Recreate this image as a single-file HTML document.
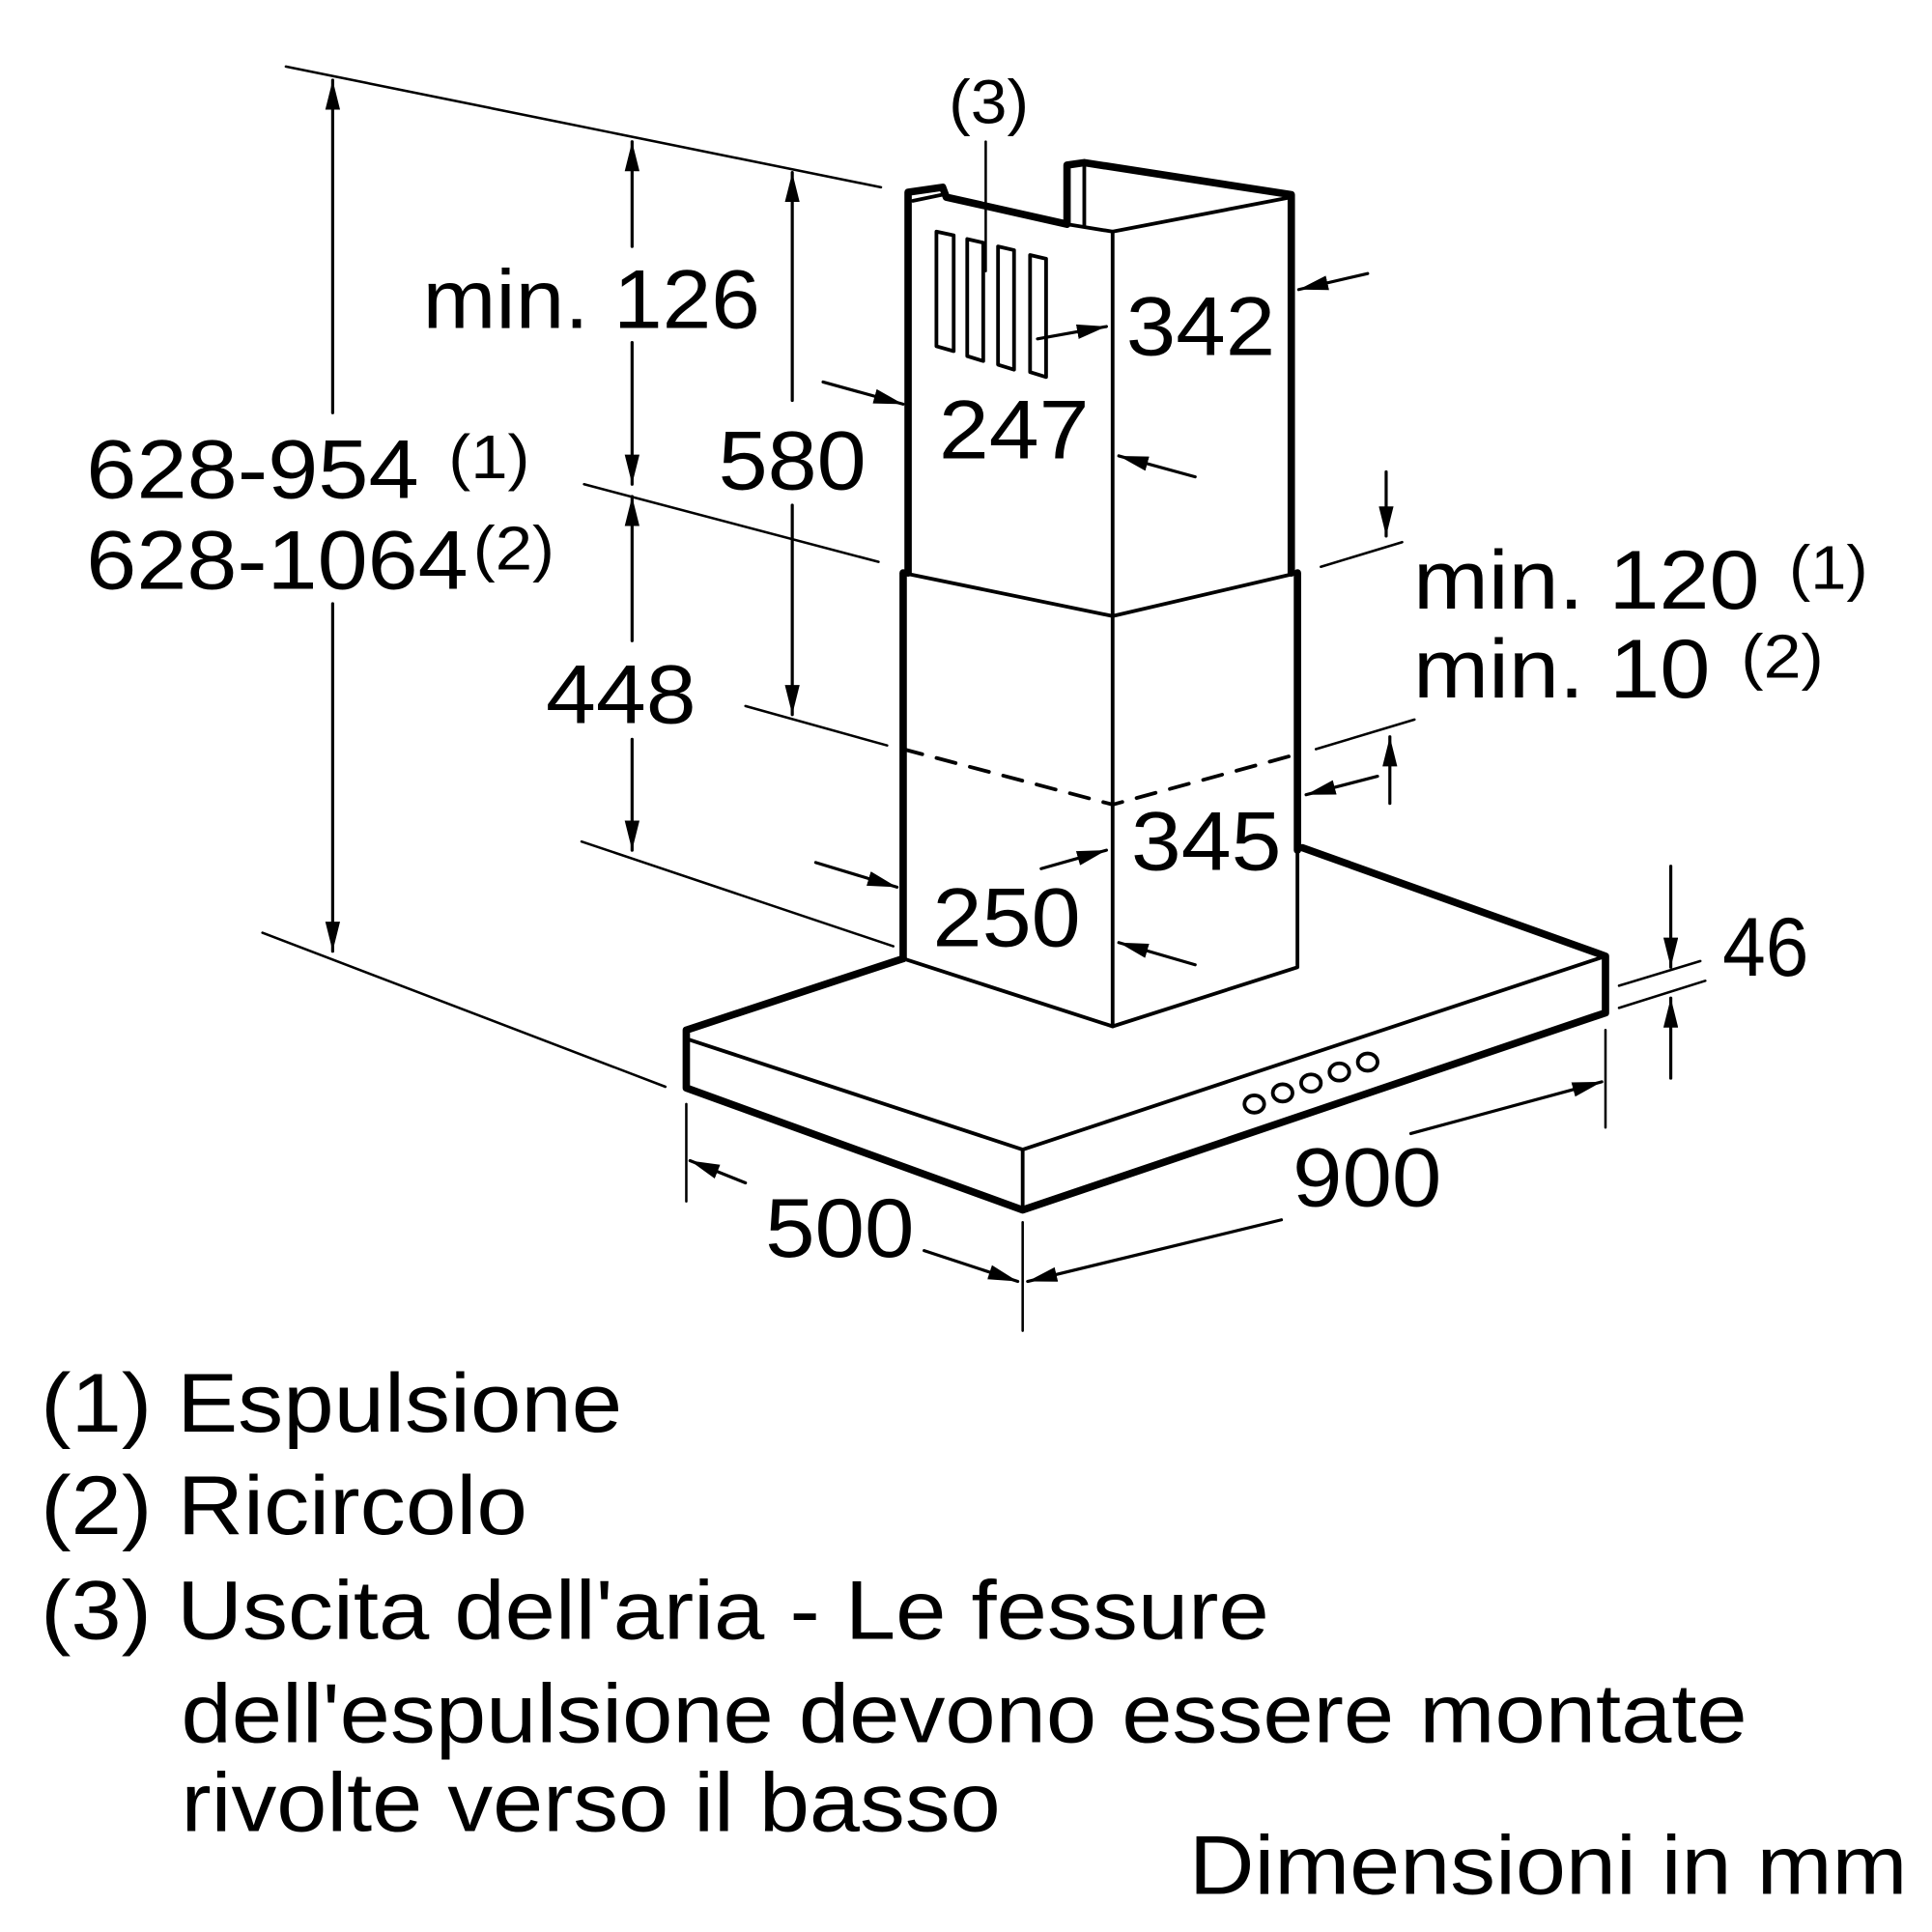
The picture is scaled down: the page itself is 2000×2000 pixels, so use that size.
<!DOCTYPE html>
<html><head><meta charset="utf-8"><style>
html,body{margin:0;padding:0;background:#fff}
svg{display:block}
text{font-family:"Liberation Sans",sans-serif;fill:#000}
</style></head><body>
<svg width="2000" height="2000" viewBox="0 0 1568 1568" xmlns="http://www.w3.org/2000/svg">
<defs>
<marker id="ah" viewBox="0 0 24 12" refX="24" refY="6" markerWidth="24" markerHeight="12" markerUnits="userSpaceOnUse" orient="auto">
<path d="M0,0 L24,6 L0,12 z"/></marker>
</defs>
<g fill="none" stroke="#000" stroke-linecap="round" stroke-linejoin="round">
<g stroke-width="6">
<path d="M737,465 L737,156 L765,152 L768,160 L866,182 L866,134 L880,132 L1048,158 L1048,465"/>
<path d="M733,778 L733,465"/>
<path d="M1053,690 L1053,465"/>
<path d="M733,778 L557,836 L557,883 L830,982 L1303,822 L1303,776 L1057,688"/>
</g>
<g stroke-width="3">
<path d="M741,163 L765,158"/>
<path d="M880,134 L880,183"/>
<path d="M866,182 L903,188 L1048,160"/>
<path d="M903,188 L903,500"/>
<path d="M733,465 L903,500 L1053,465"/>
<path d="M903,500 L903,833"/>
<path d="M733,778 L903,833 L1053,785 L1053,690"/>
<path d="M557,843 L830,933 L1303,776"/>
<path d="M830,933 L830,982"/>
<path d="M733,608 L903,653 L1053,612" stroke-dasharray="16,12"/>
<path d="M760,188 L774,191 L774,285 L760,281 z"/>
<path d="M785,194 L798,197 L798,293 L785,289 z"/>
<path d="M810,200 L823,203 L823,300 L810,296 z"/>
<path d="M836,207 L849,210 L849,306 L836,302 z"/>
<ellipse cx="1018" cy="896" rx="8" ry="7"/>
<ellipse cx="1041" cy="887" rx="8" ry="7"/>
<ellipse cx="1064" cy="879" rx="8" ry="7"/>
<ellipse cx="1087" cy="870" rx="8" ry="7"/>
<ellipse cx="1110" cy="862" rx="8" ry="7"/>
</g>
<g stroke-width="2">
<path d="M232,54 L715,152"/>
<path d="M474,393 L713,456"/>
<path d="M605,573 L720,605"/>
<path d="M472,683 L725,768"/>
<path d="M213,757 L540,882"/>
<path d="M1072,460 L1138,440"/>
<path d="M1068,608 L1148,584"/>
<path d="M1314,800 L1380,780"/>
<path d="M1314,818 L1384,796"/>
<path d="M557,896 L557,975"/>
<path d="M830,992 L830,1080"/>
<path d="M1303,836 L1303,915"/>
<path d="M800,115 L800,220"/>
</g>
<g stroke-width="2.5">
<path d="M270,335 L270,65" marker-end="url(#ah)"/>
<path d="M270,490 L270,772" marker-end="url(#ah)"/>
<path d="M513,200 L513,115" marker-end="url(#ah)"/>
<path d="M513,278 L513,393" marker-end="url(#ah)"/>
<path d="M513,520 L513,403" marker-end="url(#ah)"/>
<path d="M513,600 L513,690" marker-end="url(#ah)"/>
<path d="M643,325 L643,140" marker-end="url(#ah)"/>
<path d="M643,410 L643,580" marker-end="url(#ah)"/>
<path d="M668,310 L733,328" marker-end="url(#ah)"/>
<path d="M842,275 L898,265" marker-end="url(#ah)"/>
<path d="M970,387 L908,370" marker-end="url(#ah)"/>
<path d="M1110,222 L1054,235" marker-end="url(#ah)"/>
<path d="M1125,383 L1125,435" marker-end="url(#ah)"/>
<path d="M1128,652 L1128,598" marker-end="url(#ah)"/>
<path d="M1118,630 L1060,645" marker-end="url(#ah)"/>
<path d="M662,700 L728,720" marker-end="url(#ah)"/>
<path d="M845,705 L898,690" marker-end="url(#ah)"/>
<path d="M970,783 L908,765" marker-end="url(#ah)"/>
<path d="M1356,703 L1356,785" marker-end="url(#ah)"/>
<path d="M1356,875 L1356,810" marker-end="url(#ah)"/>
<path d="M605,960 L560,942" marker-end="url(#ah)"/>
<path d="M750,1015 L826,1040" marker-end="url(#ah)"/>
<path d="M1145,920 L1300,878" marker-end="url(#ah)"/>
<path d="M1040,990 L834,1040" marker-end="url(#ah)"/>
</g>
</g>
<g font-size="68" lengthAdjust="spacingAndGlyphs">
<text x="770" y="100" font-size="50" textLength="65" lengthAdjust="spacingAndGlyphs">(3)</text>
<text x="343" y="266" textLength="274" lengthAdjust="spacingAndGlyphs">min. 126</text>
<text x="914" y="288" textLength="121" lengthAdjust="spacingAndGlyphs">342</text>
<text x="762" y="372" textLength="122" lengthAdjust="spacingAndGlyphs">247</text>
<text x="583" y="397" textLength="120" lengthAdjust="spacingAndGlyphs">580</text>
<text x="70" y="404" textLength="270" lengthAdjust="spacingAndGlyphs">628-954</text>
<text x="364" y="388" font-size="50" textLength="66" lengthAdjust="spacingAndGlyphs">(1)</text>
<text x="70" y="478" textLength="310" lengthAdjust="spacingAndGlyphs">628-1064</text>
<text x="384" y="462" font-size="50" textLength="66" lengthAdjust="spacingAndGlyphs">(2)</text>
<text x="1147" y="494" textLength="281" lengthAdjust="spacingAndGlyphs">min. 120</text>
<text x="1452" y="478" font-size="50" textLength="64" lengthAdjust="spacingAndGlyphs">(1)</text>
<text x="1147" y="566" textLength="241" lengthAdjust="spacingAndGlyphs">min. 10</text>
<text x="1413" y="550" font-size="50" textLength="67" lengthAdjust="spacingAndGlyphs">(2)</text>
<text x="443" y="587" textLength="122" lengthAdjust="spacingAndGlyphs">448</text>
<text x="918" y="706" textLength="122" lengthAdjust="spacingAndGlyphs">345</text>
<text x="757" y="768" textLength="120" lengthAdjust="spacingAndGlyphs">250</text>
<text x="1398" y="792" textLength="70" lengthAdjust="spacingAndGlyphs">46</text>
<text x="1049" y="979" textLength="121" lengthAdjust="spacingAndGlyphs">900</text>
<text x="621" y="1020" textLength="121" lengthAdjust="spacingAndGlyphs">500</text>
<text x="33" y="1162" textLength="472" lengthAdjust="spacingAndGlyphs">(1) Espulsione</text>
<text x="33" y="1245" textLength="395" lengthAdjust="spacingAndGlyphs">(2) Ricircolo</text>
<text x="33" y="1330" textLength="997" lengthAdjust="spacingAndGlyphs">(3) Uscita dell'aria - Le fessure</text>
<text x="147" y="1414" textLength="1271" lengthAdjust="spacingAndGlyphs">dell'espulsione devono essere montate</text>
<text x="147" y="1486" textLength="665" lengthAdjust="spacingAndGlyphs">rivolte verso il basso</text>
<text x="965" y="1537" textLength="583" lengthAdjust="spacingAndGlyphs">Dimensioni in mm</text>
</g>
</svg>
</body></html>
